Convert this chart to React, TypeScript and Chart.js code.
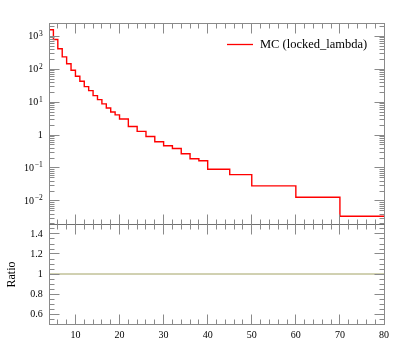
import React, { useEffect, useRef } from "react";
import { Chart, registerables } from "chart.js";

Chart.register(...registerables);

// ---- data ----
const binEdges = [4, 5, 6, 7, 8, 9, 10, 11, 12, 13, 14, 15, 16, 17, 18, 19, 20, 22, 24, 26, 28, 30, 32, 34, 36, 38, 40, 45, 50, 60, 70, 80];
const mcValues = [1567, 793, 414, 236, 145, 92, 61, 43, 29.4, 22.2, 15.7, 11.9, 8.8, 6.6, 5.0, 4.1, 3.06, 1.82, 1.29, 0.906, 0.624, 0.472, 0.391, 0.269, 0.19, 0.165, 0.092, 0.063, 0.0286, 0.013, 0.00342];
const ratioX = [4, 80];
const ratioY = [1, 1];
const xTickLabels = [10, 20, 30, 40, 50, 60, 70, 80];
const logDecades = [-2, -1, 0, 1, 2, 3];
const ratioTickLabels = [0.6, 0.8, 1, 1.2, 1.4];
const legendLabel = "MC (locked_lambda)";
const ratioTitle = "Ratio";

// ---- ranges ----
const X_MIN = 4;
const X_MAX = 80;
const MAIN_LOG_MIN = -2.7;
const MAIN_LOG_MAX = 3.4;
const RATIO_MIN = 0.5;
const RATIO_MAX = 1.5;
const MAIN_H = 201;
const RATIO_H = 100;

const FRAME = "#8a8a8a";
const FONT = '"Liberation Serif", "Times New Roman", serif';

function crisp(v: number) {
  return Math.round(v - 0.5) + 0.5;
}

const framePlugin = {
  id: "rivetFrame",
  afterDraw(chart: any) {
    const { ctx, chartArea: a } = chart;
    const xs = chart.scales.x;
    const ys = chart.scales.y;
    const yr = chart.scales.y2;
    const L = crisp(a.left);
    const R = crisp(a.right);
    const T = crisp(a.top);
    const B = crisp(a.bottom);
    const M = crisp(ys.getPixelForValue(Math.pow(10, MAIN_LOG_MIN)));
    ctx.save();
    ctx.lineWidth = 1;
    ctx.strokeStyle = FRAME;
    const line = (x1: number, y1: number, x2: number, y2: number) => {
      ctx.beginPath();
      ctx.moveTo(x1, y1);
      ctx.lineTo(x2, y2);
      ctx.stroke();
    };
    // frames
    ctx.strokeRect(L, T, R - L, M - T);
    ctx.strokeRect(L, M, R - L, B - M);
    ctx.strokeStyle = "#707070";
    line(L, M, R, M);
    ctx.strokeStyle = FRAME;

    const MAJ = 10;
    const MIN = 5;
    // x ticks
    for (let v = X_MIN + 2; v < X_MAX; v += 2) {
      const px = crisp(xs.getPixelForValue(v));
      const len = v % 10 === 0 ? MAJ : MIN;
      line(px, T, px, T + len);
      line(px, M, px, M - len);
      line(px, M, px, M + len);
      line(px, B, px, B - len);
    }
    // log ticks
    const lo = Math.pow(10, MAIN_LOG_MIN);
    const hi = Math.pow(10, MAIN_LOG_MAX);
    for (let k = -3; k <= 3; k++) {
      for (let m = 1; m <= 9; m++) {
        const v = m * Math.pow(10, k);
        if (v <= lo * 1.0001 || v >= hi) continue;
        const py = crisp(ys.getPixelForValue(v));
        const len = m === 1 ? MAJ : MIN;
        line(L, py, L + len, py);
        line(R, py, R - len, py);
      }
    }
    // ratio ticks
    for (let i = 11; i <= 29; i++) {
      const v = i * 0.05;
      const py = crisp(yr.getPixelForValue(v));
      const len = i % 4 === 0 ? MAJ : MIN;
      line(L, py, L + len, py);
      line(R, py, R - len, py);
    }

    // labels
    ctx.fillStyle = "#000";
    ctx.textBaseline = "alphabetic";
    ctx.font = `10px ${FONT}`;
    ctx.textAlign = "center";
    for (const v of xTickLabels) {
      ctx.fillText(String(v), xs.getPixelForValue(v), 338);
    }
    const labRight = a.left - 6.3;
    ctx.textAlign = "right";
    for (const v of ratioTickLabels) {
      ctx.font = `10px ${FONT}`;
      ctx.fillText(String(v), labRight, yr.getPixelForValue(v) + 3.3);
    }
    for (const d of logDecades) {
      const py = ys.getPixelForValue(Math.pow(10, d));
      if (d === 0) {
        ctx.font = `10px ${FONT}`;
        ctx.textAlign = "right";
        ctx.fillText("1", labRight, py + 3.3);
        continue;
      }
      const exp = d < 0 ? "\u2212" + String(-d) : String(d);
      ctx.font = `7.5px ${FONT}`;
      const ew = ctx.measureText(exp).width;
      ctx.textAlign = "left";
      ctx.fillText(exp, labRight - ew, py - 0.5);
      ctx.font = `10px ${FONT}`;
      ctx.textAlign = "right";
      ctx.fillText("10", labRight - ew - 0.8, py + 3.3);
    }

    // ratio axis title
    ctx.save();
    ctx.translate(15, (M + B) / 2);
    ctx.rotate(-Math.PI / 2);
    ctx.textAlign = "center";
    ctx.font = `12px ${FONT}`;
    ctx.fillText(ratioTitle, 0, 0);
    ctx.restore();

    // legend
    ctx.strokeStyle = "#ff0000";
    ctx.lineWidth = 1.3;
    line(227, 44.5, 253, 44.5);
    ctx.textAlign = "left";
    ctx.font = `12.5px ${FONT}`;
    ctx.fillText(legendLabel, 260, 47.5);
    ctx.restore();
  },
};

export default function App() {
  const ref = useRef<HTMLCanvasElement | null>(null);
  useEffect(() => {
    if (!ref.current) return;
    const histData = binEdges.map((e, i) => ({ x: e, y: mcValues[Math.min(i, mcValues.length - 1)] }));
    const ratioData = ratioX.map((x, i) => ({ x, y: ratioY[i] }));
    const logSpan = MAIN_LOG_MAX - MAIN_LOG_MIN;
    const yMin = Math.pow(10, MAIN_LOG_MIN - (logSpan * RATIO_H) / MAIN_H);
    const yMax = Math.pow(10, MAIN_LOG_MAX);
    const y2Max = RATIO_MAX + ((RATIO_MAX - RATIO_MIN) * MAIN_H) / RATIO_H;
    const chart = new Chart(ref.current, {
      type: "line",
      data: {
        datasets: [
          {
            label: legendLabel,
            data: histData,
            yAxisID: "y",
            borderColor: "#ff0000",
            borderWidth: 1.4,
            pointRadius: 0,
            stepped: "before",
            fill: false,
          },
          {
            label: "ratio",
            data: ratioData,
            yAxisID: "y2",
            borderColor: "#a2a265",
            borderWidth: 1,
            pointRadius: 0,
            fill: false,
          },
        ],
      },
      options: {
        animation: false,
        responsive: false,
        layout: { padding: { left: 49, top: 23, right: 13, bottom: 34 } },
        plugins: { legend: { display: false }, tooltip: { enabled: false } },
        scales: {
          x: { type: "linear", min: X_MIN, max: X_MAX, display: false },
          y: { type: "logarithmic", min: yMin, max: yMax, display: false },
          y2: { type: "linear", min: RATIO_MIN, max: y2Max, display: false },
        },
      },
      plugins: [framePlugin],
    });
    return () => chart.destroy();
  }, []);
  return (
    <div style={{ position: "fixed", left: 0, top: 0, width: 397, height: 358, background: "#fff" }}>
      <canvas ref={ref} width={397} height={358} style={{ display: "block" }} />
    </div>
  );
}
